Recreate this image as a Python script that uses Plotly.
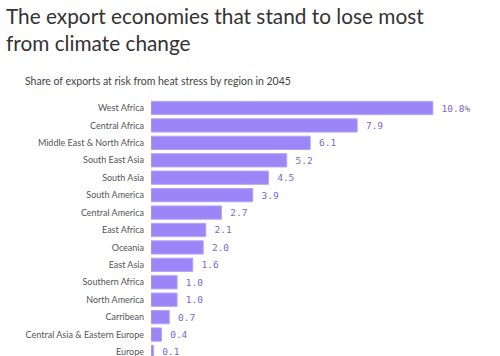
import plotly.graph_objects as go

regions = ["West Africa", "Central Africa", "Middle East & North Africa", "South East Asia",
           "South Asia", "South America", "Central America", "East Africa", "Oceania",
           "East Asia", "Southern Africa", "North America", "Carribean",
           "Central Asia & Eastern Europe", "Europe"]
values = [10.8, 7.9, 6.1, 5.2, 4.5, 3.9, 2.7, 2.1, 2.0, 1.6, 1.0, 1.0, 0.7, 0.4, 0.1]
labels = ["10.8%"] + [f"{v:.1f}" for v in values[1:]]

W, H = 500, 356
l, r, t, b = 151, 0, 95, 0
pw, ph = W - l - r, H - t - b

fig = go.Figure(go.Bar(
    y=list(range(len(regions))), x=values, orientation="h",
    text=["\u2005" + s for s in labels], textposition="outside", cliponaxis=False,
    textfont=dict(family="DejaVu Sans Mono, monospace", size=9.5, color="#7b68d3"),
    marker=dict(color="#9a86f6", line=dict(color="#b1a3f8", width=1)),
    width=0.76, hoverinfo="skip",
))

def px(x):
    return (x - l) / pw

def py(y):
    return 1 - (y - t) / ph

fig.update_layout(
    width=W, height=H,
    margin=dict(l=l, r=r, t=t, b=b),
    paper_bgcolor="white", plot_bgcolor="white",
    showlegend=False,
    xaxis=dict(range=[0, pw / 26.1], visible=False, fixedrange=True),
    yaxis=dict(range=[14.23, -0.746],
               tickmode="array", tickvals=list(range(len(regions))),
               ticktext=regions, showgrid=False, zeroline=False, showline=False,
               ticks="", ticklabelstandoff=6, ticklabeloverflow="allow",
               tickfont=dict(family="Lato, Open Sans, sans-serif", size=9, color="#555555")),
    annotations=[
        dict(text="The export economies that stand to lose most<br>from climate change",
             x=px(4), y=py(1), xref="paper", yref="paper", showarrow=False, align="left",
             xanchor="left", yanchor="top",
             font=dict(family="Lato, Open Sans, sans-serif", size=20.8, color="#333333")),
        dict(text="Share of exports at risk from heat stress by region in 2045",
             x=px(23), y=py(81), xref="paper", yref="paper",
             showarrow=False, xanchor="left", yanchor="middle",
             font=dict(family="Lato, Open Sans, sans-serif", size=10.5, color="#444444")),
    ],
)
fig.write_html("out.html", config={"displayModeBar": False},
               post_script="document.body.style.margin='0';")
